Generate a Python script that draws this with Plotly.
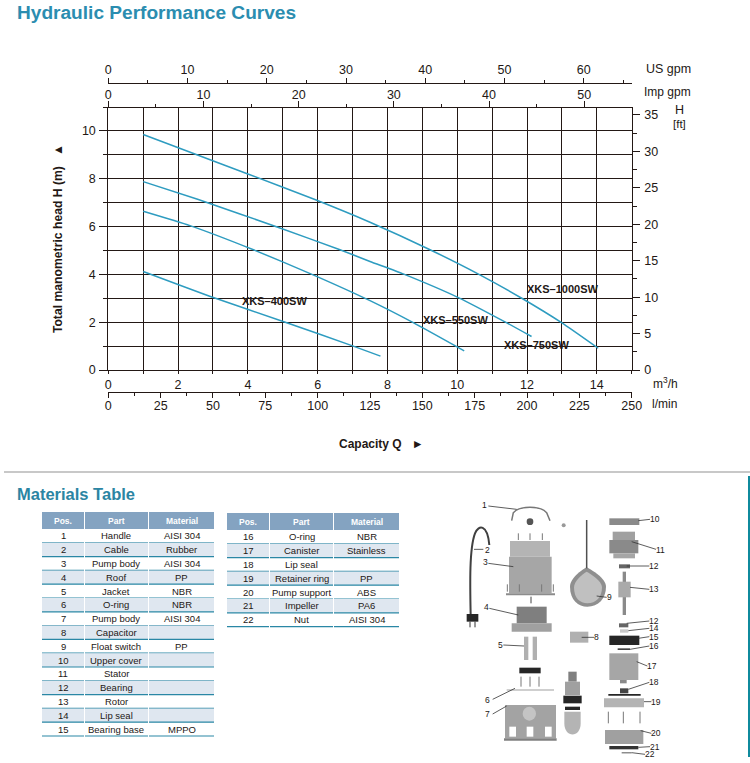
import plotly.graph_objects as go

W, H = 750, 763

# ---------- data ----------
q_1000 = [1.0, 4.0, 5.92, 7.5, 9.22, 10.65, 11.85, 12.99, 14.04]
h_1000 = [9.85, 8.2, 7.13, 6.18, 5.03, 3.98, 3.0, 1.98, 0.91]
q_750 = [1.0, 2.58, 4.92, 6.64, 7.5, 8.45, 10.03, 11.41, 12.13]
h_750 = [7.88, 7.13, 5.94, 5.03, 4.54, 4.02, 3.03, 1.98, 1.40]
q_550 = [1.0, 2.34, 4.16, 5.87, 7.5, 8.74, 10.2]
h_550 = [6.64, 6.04, 5.03, 3.98, 2.9, 1.98, 0.8]
q_400 = [1.0, 3.01, 5.01, 7.02, 7.8]
h_400 = [4.12, 3.03, 2.03, 1.0, 0.58]

pos_a = ["1","2","3","4","5","6","7","8","9","10","11","12","13","14","15"]
part_a = ["Handle","Cable","Pump body","Roof","Jacket","O-ring","Pump body","Capacitor",
          "Float switch","Upper cover","Stator","Bearing","Rotor","Lip seal","Bearing base"]
mat_a = ["AISI 304","Rubber","AISI 304","PP","NBR","NBR","AISI 304","","PP","","","","","","MPPO"]
pos_b = ["16","17","18","19","20","21","22"]
part_b = ["O-ring","Canister","Lip seal","Retainer ring","Pump support","Impeller","Nut"]
mat_b = ["NBR","Stainless","","PP","ABS","PA6","AISI 304"]
table_head = ["Pos.", "Part", "Material"]

# ---------- styling helpers ----------
FONT = "Liberation Sans, Arial, sans-serif"
INK = "#231815"
CURVE = "#2e9cc0"
TITLE = "#2b8db0"
HEAD = "#84a3c1"
BAND = "#dfe7f0"
RULE = "#2a87a5"


def px(x):
    return x / W


def py(y):
    return 1 - y / H


def text(x, y, s, size=12, color=INK, anchor="left", bold=False, **kw):
    return dict(x=px(x), y=py(y), xref="paper", yref="paper", text=f"<b>{s}</b>" if bold else s,
                showarrow=False, xanchor=anchor, yanchor="middle", borderpad=0, borderwidth=0,
                font=dict(family=FONT, size=size, color=color), **kw)


def axis_line_font():
    return dict(family=FONT, size=12.5, color=INK)


fig = go.Figure()
L, R, T, B = 108.3, 631.7, 107, 370

for name, qs, hs in [("XKS-1000SW", q_1000, h_1000), ("XKS-750SW", q_750, h_750),
                     ("XKS-550SW", q_550, h_550), ("XKS-400SW", q_400, h_400)]:
    fig.add_trace(go.Scatter(x=qs, y=hs, mode="lines", name=name, showlegend=False,
                             line=dict(color=CURVE, width=1.5, shape="spline", smoothing=0.5)))

# empty traces so the secondary scales are drawn
for xa, ya in [("x2", "y"), ("x3", "y"), ("x4", "y"), ("x", "y2")]:
    fig.add_trace(go.Scatter(x=[None], y=[None], xaxis=xa, yaxis=ya, showlegend=False, hoverinfo="skip"))

base_axis = dict(showline=True, linecolor=INK, linewidth=1, tickcolor=INK, tickwidth=1,
                 tickfont=axis_line_font(), zeroline=False, ticks="outside")
grid = dict(showgrid=True, gridcolor=INK, gridwidth=1)

fig.update_layout(
    width=W, height=H, autosize=False, margin=dict(l=0, r=0, t=0, b=0, autoexpand=False),
    paper_bgcolor="white", plot_bgcolor="white", showlegend=False,
    font=dict(family=FONT, color=INK),
    xaxis=dict(**base_axis, **grid, domain=[px(L), px(R)], range=[0, 15], dtick=2, tick0=0,
               ticklen=3, ticklabelstandoff=0, mirror=False,
               minor=dict(dtick=1, showgrid=True, gridcolor=INK, gridwidth=1, ticks="outside", ticklen=3, tickcolor=INK)),
    yaxis=dict(**base_axis, **grid, domain=[py(B), py(T)], range=[0, 11], dtick=2, tick0=0,
               ticklen=8, ticklabelstandoff=1,
               title=dict(text="<b>Total manometric head H (m)   ▲</b>", standoff=16,
                          font=dict(family=FONT, size=12.2, color=INK)),
               minor=dict(dtick=1, showgrid=True, gridcolor=INK, gridwidth=1, ticks="outside", ticklen=4, tickcolor=INK)),
    xaxis2=dict(**base_axis, overlaying="x", side="top", anchor="free", position=py(83.3),
                range=[0, 15 * 4.403], dtick=10, tick0=0, ticklen=5, ticklabelstandoff=-1, showgrid=False,
                domain=[px(L), px(R)],
                minor=dict(dtick=5, ticks="outside", ticklen=3, tickcolor=INK)),
    xaxis3=dict(**base_axis, overlaying="x", side="top", anchor="free", position=py(107),
                range=[0, 15 * 3.666], dtick=10, tick0=0, ticklen=6, ticklabelstandoff=-3, showgrid=False,
                domain=[px(L), px(R)],
                minor=dict(dtick=5, ticks="outside", ticklen=3, tickcolor=INK)),
    xaxis4=dict(**base_axis, overlaying="x", side="bottom", anchor="free", position=py(391.7),
                range=[0, 250], dtick=25, tick0=0, ticklen=5, ticklabelstandoff=-3, showgrid=False,
                domain=[px(L), px(R)],
                minor=dict(dtick=12.5, ticks="outside", ticklen=3, tickcolor=INK)),
    yaxis2=dict(**base_axis, overlaying="y", side="right", anchor="x", range=[0, 11 / 0.3048],
                dtick=5, tick0=0, ticklen=7, ticklabelstandoff=2, showgrid=False,
                minor=dict(dtick=2.5, ticks="outside", ticklen=4, tickcolor=INK)),
)

shapes = []
annotations = []


def rect_px(x0, y0, x1, y1, fill):
    return dict(type="rect", xref="paper", yref="paper", x0=px(x0), x1=px(x1), y0=py(y0), y1=py(y1),
                fillcolor=fill, line=dict(width=0))


# ---------- tables ----------
def add_table(rows, left, top, row_h, head_h):
    cols = [(0, 42), (43, 106), (107, 172)]
    for (c0, c1), label in zip(cols, table_head):
        shapes.append(rect_px(left + c0, top, left + c1, top + head_h, HEAD))
        annotations.append(text(left + (c0 + c1) / 2, top + head_h / 2, label, 8.5, "white", "center", bold=True))
    for i, row in enumerate(rows):
        y0 = top + head_h + row_h * i
        y1 = y0 + row_h
        for (c0, c1), cell in zip(cols, row):
            if i % 2 == 1:
                shapes.append(rect_px(left + c0, y0, left + c1, y1, BAND))
            shapes.append(dict(type="line", xref="paper", yref="paper",
                               x0=px(left + c0), x1=px(left + c1), y0=py(y1), y1=py(y1),
                               line=dict(color=RULE, width=1.2)))
            if cell:
                annotations.append(text(left + (c0 + c1) / 2, (y0 + y1) / 2, cell, 9.5, INK, "center"))


add_table(list(zip(pos_a, part_a, mat_a)), 42, 512, 13.8, 17)
add_table(list(zip(pos_b, part_b, mat_b)), 227, 513, 13.8, 17)

# separator and side bar
shapes.append(dict(type="line", xref="paper", yref="paper", x0=px(4), x1=1, y0=py(472), y1=py(472),
                   line=dict(color="#c8c8c8", width=2)))
shapes.append(rect_px(748, 476, 750, 757, "#0f8a9d"))

# ---------- exploded view, schematic ----------
def zx(v):
    return px(450 + v / 3)


def zy(v):
    return py(490 + v / 3)


def block(x0, y0, x1, y1, fill, kind="rect"):
    return dict(type=kind, xref="paper", yref="paper", x0=zx(x0), x1=zx(x1), y0=zy(y0), y1=zy(y1),
                fillcolor=fill, line=dict(width=0))


def stroke(x0, y0, x1, y1, color="#333333", width=0.8):
    return dict(type="line", xref="paper", yref="paper", x0=zx(x0), x1=zx(x1), y0=zy(y0), y1=zy(y1),
                line=dict(color=color, width=width))


def outline(tokens, fill="rgba(0,0,0,0)", color="rgba(0,0,0,0)", width=0):
    """SVG path from a list of commands and (x, y) pairs in the exploded-view frame."""
    parts = []
    for t in tokens:
        parts.append(t if isinstance(t, str) else f"{zx(t[0])},{zy(t[1])}")
    return dict(type="path", xref="paper", yref="paper", path=" ".join(parts),
                fillcolor=fill, line=dict(color=color, width=width))


# cable, handle, float switch, impeller dome
shapes.append(outline(["M", (62, 375), "C", (60, 280), (58, 175), (75, 130),
                       "C", (85, 105), (112, 100), (118, 165)], color="#404040", width=2))
shapes.append(outline(["M", (185, 92), "L", (190, 68), "C", (210, 46), (270, 46), (290, 68),
                       "L", (300, 92)], color="#777777", width=1.5))
shapes.append(outline(["M", (410, 232), "C", (395, 240), (360, 265), (360, 290),
                       "C", (360, 330), (385, 350), (412, 350),
                       "C", (445, 350), (468, 325), (468, 290),
                       "C", (468, 265), (425, 240), (410, 232), "Z"], fill="#8f8f8f"))
shapes.append(outline(["M", (410, 245), "C", (398, 252), (372, 272), (372, 292),
                       "C", (372, 325), (390, 340), (412, 340),
                       "C", (438, 340), (456, 322), (456, 292),
                       "C", (456, 272), (422, 252), (410, 245), "Z"], fill="#c0c0c0"))
shapes.append(outline(["M", (343, 665), "L", (392, 665), "L", (392, 700),
                       "C", (392, 745), (343, 745), (343, 700), "Z"], fill="#b4b4b4"))

for b in [
    (180, 153, 300, 200, "#b4b4b4"), (177, 200, 305, 310, "#a6a6a6"), (168, 310, 315, 316, "#8c8c8c"),
    (200, 350, 290, 400, "#7f7f7f"), (185, 400, 305, 425, "#a0a0a0"),
    (222, 440, 235, 510, "#b0b0b0"), (248, 440, 261, 510, "#b0b0b0"), (208, 533, 272, 550, "#262626"),
    (165, 645, 318, 745, "#a3a3a3"), (162, 745, 320, 752, "#808080"),
    (178, 710, 198, 740, "white"), (230, 710, 250, 740, "white"), (285, 710, 305, 740, "white"),
    (355, 545, 380, 575, "#808080"), (345, 575, 390, 615, "#a0a0a0"), (340, 617, 395, 640, "#262626"),
    (345, 650, 390, 660, "#262626"),
    (360, 425, 415, 458, "#b0b0b0"),
    (478, 85, 568, 105, "#8a8a8a"), (488, 125, 555, 150, "#a0a0a0"), (478, 150, 565, 190, "#8a8a8a"),
    (490, 190, 555, 205, "#a6a6a6"), (507, 223, 540, 235, "#666666"),
    (518, 245, 528, 375, "#8a8a8a"), (505, 275, 542, 322, "#aaaaaa"),
    (507, 400, 535, 412, "#666666"), (510, 418, 535, 428, "#c8c8c8"),
    (478, 437, 568, 465, "#262626"), (503, 475, 540, 480, "#444444"),
    (478, 490, 565, 570, "#a6a6a6"), (510, 570, 530, 580, "#8a8a8a"), (510, 595, 535, 610, "#444444"),
    (475, 612, 572, 617, "#262626"), (462, 625, 582, 652, "#b4b4b4"),
    (465, 720, 580, 762, "#a0a0a0"), (478, 768, 565, 778, "#333333"), (515, 787, 545, 790, "#555555"),
    (50, 372, 85, 395, "#262626"),
]:
    shapes.append(block(*b))

shapes.append(block(218, 650, 258, 692, "#c4c4c4", "circle"))
shapes.append(block(230, 85, 250, 105, "#555555", "circle"))
shapes.append(block(335, 100, 347, 112, "#999999", "circle"))

for s in [
    (410, 90, 410, 235, "#505050", 1.5), (170, 600, 312, 600, "#a0a0a0", 1.2),
    (60, 395, 60, 412, "#333333", 1), (75, 395, 75, 412, "#333333", 1),
    (205, 130, 205, 150, "#777777", 1), (240, 130, 240, 150, "#777777", 1), (277, 130, 277, 150, "#777777", 1),
    (172, 283, 172, 305, "#777777", 1), (208, 283, 208, 305, "#777777", 1),
    (275, 283, 275, 305, "#777777", 1), (310, 283, 310, 305, "#777777", 1),
    (243, 320, 243, 340, "#444444", 1), (213, 560, 213, 590, "#777777", 1),
    (240, 560, 240, 590, "#777777", 1), (267, 560, 267, 590, "#777777", 1),
    (475, 665, 475, 700, "#777777", 1), (520, 665, 520, 700, "#777777", 1), (570, 665, 570, 700, "#777777", 1),
    (115, 48, 200, 58), (100, 178, 72, 178), (115, 220, 190, 230), (118, 355, 205, 375), (160, 465, 222, 468),
    (128, 628, 195, 595), (128, 672, 170, 648), (432, 442, 395, 442), (470, 322, 440, 318),
    (600, 88, 565, 92), (618, 178, 545, 155), (598, 228, 530, 228), (598, 298, 540, 292),
    (598, 393, 530, 400), (598, 415, 535, 422), (598, 440, 565, 445), (598, 468, 540, 478),
    (592, 528, 560, 515), (598, 577, 535, 598), (604, 635, 582, 635), (604, 730, 572, 722),
    (600, 770, 565, 772), (585, 793, 545, 788),
]:
    shapes.append(stroke(*s))

fig.update_layout(shapes=shapes)

# ---------- text ----------
annotations += [
    text(17, 13, "Hydraulic Performance Curves", 19.1, TITLE, bold=True),
    text(17, 494, "Materials Table", 16.5, "#2b85a3", bold=True),
    text(645.5, 69, "US gpm", 12.5),
    text(644, 91.7, "Imp gpm", 12),
    text(679, 110, "H", 12.5, anchor="center"),
    text(679, 124, "[ft]", 11.5, anchor="center"),
    text(653, 383, "m<sup>3</sup>/h", 12),
    text(652, 404, "l/min", 12),
    text(381, 444, "Capacity Q   ►", 12, anchor="center", bold=True),
    text(274, 300.7, "XKS–400SW", 11, anchor="center", bold=True),
    text(455, 320, "XKS–550SW", 11, anchor="center", bold=True),
    text(536.7, 345, "XKS–750SW", 11, anchor="center", bold=True),
    text(562.7, 289, "XKS–1000SW", 11, anchor="center", bold=True),
]
for s, zx_, zy_ in [("1", 105, 45), ("2", 113, 180), ("3", 107, 217), ("4", 110, 352), ("5", 150, 465),
                    ("6", 114, 630), ("7", 114, 672), ("8", 440, 442), ("9", 478, 322), ("10", 615, 88),
                    ("11", 630, 180), ("12", 612, 228), ("13", 612, 298), ("12", 612, 393), ("14", 612, 415),
                    ("15", 612, 440), ("16", 612, 468), ("17", 606, 528), ("18", 612, 577), ("19", 617, 635),
                    ("20", 618, 730), ("21", 615, 770), ("22", 600, 793)]:
    annotations.append(text(450 + zx_ / 3, 490 + zy_ / 3, s, 8.5, anchor="center"))
fig.update_layout(annotations=annotations)

fig.write_html("out.html", config=dict(displayModeBar=False),
               post_script="document.body.style.margin='0';document.documentElement.style.overflow='hidden';")
